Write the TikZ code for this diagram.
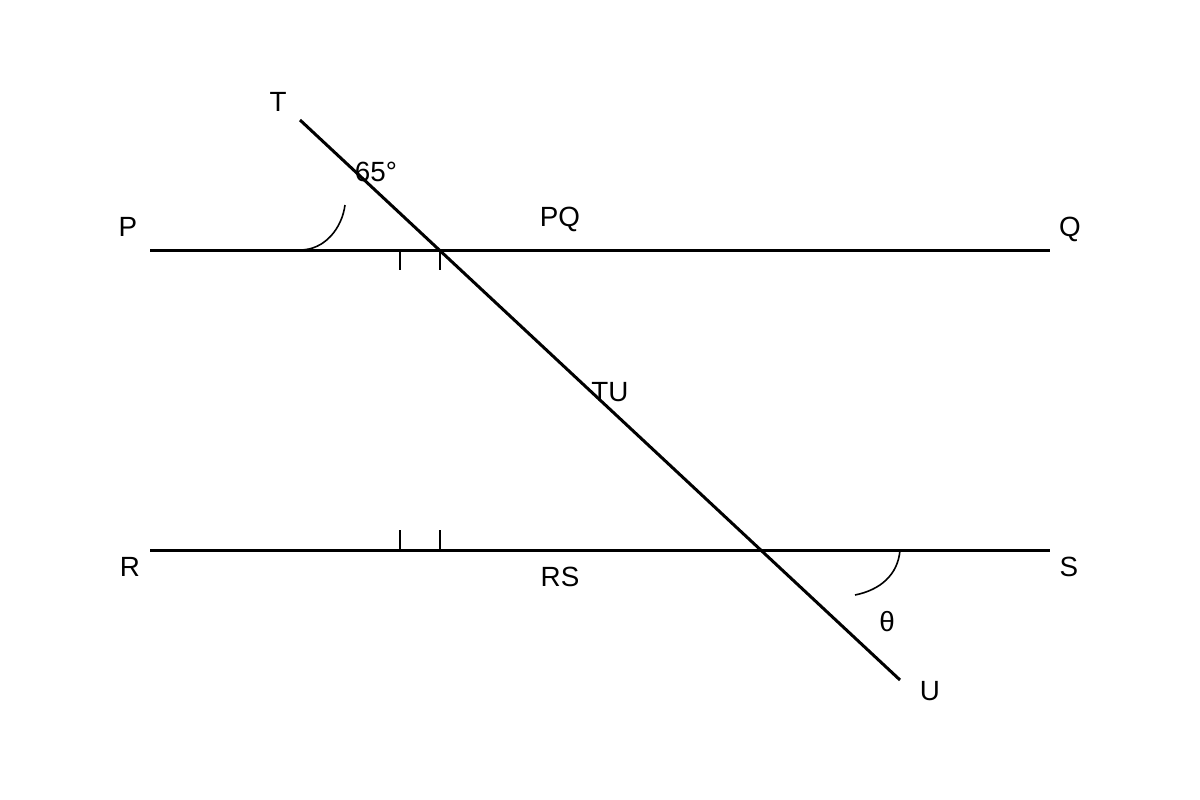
\documentclass[tikz,border=0pt]{standalone}
\usepackage{fontspec}
\setmainfont{Liberation Sans}
\usepackage{tikz}
\usetikzlibrary{positioning}

\begin{document}
\begin{tikzpicture}
[x=1pt, y=-1pt,
line-a/.style={draw, line width=3pt},
tick-a/.style={draw, line width=2pt},
arc-a/.style={draw, line width=1.6pt},
text-a/.style={inner sep=0pt, anchor=base, font=\fontsize{27.8}{33}\selectfont},]
\useasboundingbox (0,0) rectangle (1200,800);
% end points of the lines
\coordinate (pt-P) at (150,250);
\coordinate (pt-Q) at (1050,250);
\coordinate (pt-R) at (150,550);
\coordinate (pt-S) at (1050,550);
\coordinate (pt-T) at (300,120);
\coordinate (pt-U) at (900,680);
\draw [line-a] (pt-P) -- (pt-Q);
\draw [line-a] (pt-R) -- (pt-S);
\draw [line-a] (pt-T) -- (pt-U);
% tick marks
\coordinate (tk-1) at (400,250);
\coordinate (tk-2) at (440,250);
\coordinate (tk-3) at (400,550);
\coordinate (tk-4) at (440,550);
\draw [tick-a] (tk-1) -- ++(0,20);
\draw [tick-a] (tk-2) -- ++(0,20);
\draw [tick-a] (tk-3) -- ++(0,-20);
\draw [tick-a] (tk-4) -- ++(0,-20);
% angle arcs
\coordinate (arc-1) at (300,250);
\coordinate (arc-2) at (900,550);
\draw [arc-a] (arc-1) .. controls (325,250) and (342,228) .. (345,205);
\draw [arc-a] (arc-2) .. controls (898,575) and (880,590) .. (855,595);
% labels
\node (lbl-T)  [text-a] at (278,111) {T};
\node (lbl-P)  [text-a] at (128,236) {P};
\node (lbl-Q)  [text-a] at (1070,236) {Q};
\node (lbl-R)  [text-a] at (130,576) {R};
\node (lbl-S)  [text-a] at (1069,576) {S};
\node (lbl-U)  [text-a] at (930,700) {U};
\node (lbl-PQ) [text-a] at (560,226) {PQ};
\node (lbl-RS) [text-a] at (560,586) {RS};
\node (lbl-TU) [text-a] at (610,401) {TU};
\node (lbl-65) [text-a] at (376,181) {65°};
\node (lbl-th) [text-a] at (887,631) {θ};
\end{tikzpicture}
\end{document}
